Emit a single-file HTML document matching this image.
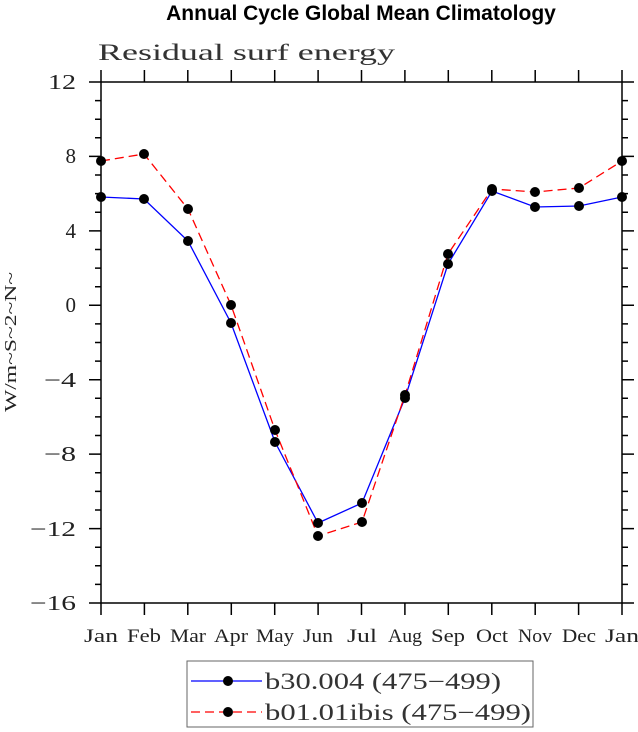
<!DOCTYPE html>
<html><head><style>body{margin:0;background:#fff}svg{display:block}</style></head><body>
<svg width="638" height="732" xmlns="http://www.w3.org/2000/svg" font-family="Liberation Serif, serif">
<text x="361" y="20" text-anchor="middle" font-family="Liberation Sans, sans-serif" font-weight="bold" font-size="21">Annual Cycle Global Mean Climatology</text>
<text x="98" y="60" font-size="23" fill="#333" textLength="297" lengthAdjust="spacingAndGlyphs">Residual surf energy</text>
<rect x="101" y="82" width="521" height="521" fill="none" stroke="#000" stroke-width="1.5"/>
<path stroke="#000" stroke-width="1.5" fill="none" d="
M89 82H101M622 82H634
M95 100.6H101M622 100.6H628
M95 119.2H101M622 119.2H628
M95 137.8H101M622 137.8H628
M89 156.4H101M622 156.4H634
M95 175H101M622 175H628
M95 193.6H101M622 193.6H628
M95 212.2H101M622 212.2H628
M89 230.9H101M622 230.9H634
M95 249.5H101M622 249.5H628
M95 268.1H101M622 268.1H628
M95 286.7H101M622 286.7H628
M89 305.3H101M622 305.3H634
M95 323.9H101M622 323.9H628
M95 342.5H101M622 342.5H628
M95 361.1H101M622 361.1H628
M89 379.7H101M622 379.7H634
M95 398.3H101M622 398.3H628
M95 416.9H101M622 416.9H628
M95 435.5H101M622 435.5H628
M89 454.1H101M622 454.1H634
M95 472.7H101M622 472.7H628
M95 491.4H101M622 491.4H628
M95 510H101M622 510H628
M89 528.6H101M622 528.6H634
M95 547.2H101M622 547.2H628
M95 565.8H101M622 565.8H628
M95 584.4H101M622 584.4H628
M89 603H101M622 603H634
M101 70V82M144.4 70V82M187.8 70V82M231.3 70V82M274.7 70V82M318.1 70V82M361.5 70V82M404.9 70V82M448.3 70V82M491.8 70V82M535.2 70V82M578.6 70V82M622 70V82
M101 603V615M144.4 603V615M187.8 603V615M231.3 603V615M274.7 603V615M318.1 603V615M361.5 603V615M404.9 603V615M448.3 603V615M491.8 603V615M535.2 603V615M578.6 603V615M622 603V615"/>
<g font-size="21" text-anchor="end" fill="#222">
<text x="76" y="89" textLength="28" lengthAdjust="spacingAndGlyphs">12</text><text x="76" y="163">8</text><text x="76" y="238">4</text><text x="76" y="312">0</text>
<text x="76" y="387" textLength="32" lengthAdjust="spacingAndGlyphs">−4</text><text x="76" y="461" textLength="32" lengthAdjust="spacingAndGlyphs">−8</text><text x="76" y="536" textLength="46" lengthAdjust="spacingAndGlyphs">−12</text><text x="76" y="610" textLength="46" lengthAdjust="spacingAndGlyphs">−16</text>
</g>
<g font-size="19" text-anchor="middle" fill="#222">
<text x="101" y="642" textLength="34" lengthAdjust="spacingAndGlyphs">Jan</text><text x="144" y="642" textLength="34" lengthAdjust="spacingAndGlyphs">Feb</text><text x="188" y="642" textLength="36" lengthAdjust="spacingAndGlyphs">Mar</text><text x="231" y="642" textLength="34" lengthAdjust="spacingAndGlyphs">Apr</text><text x="275" y="642" textLength="38" lengthAdjust="spacingAndGlyphs">May</text><text x="318" y="642" textLength="30" lengthAdjust="spacingAndGlyphs">Jun</text><text x="362" y="642" textLength="30" lengthAdjust="spacingAndGlyphs">Jul</text><text x="405" y="642" textLength="34" lengthAdjust="spacingAndGlyphs">Aug</text><text x="448" y="642" textLength="34" lengthAdjust="spacingAndGlyphs">Sep</text><text x="492" y="642" textLength="32" lengthAdjust="spacingAndGlyphs">Oct</text><text x="535" y="642" textLength="34" lengthAdjust="spacingAndGlyphs">Nov</text><text x="579" y="642" textLength="34" lengthAdjust="spacingAndGlyphs">Dec</text><text x="622" y="642" textLength="34" lengthAdjust="spacingAndGlyphs">Jan</text>
</g>
<text transform="translate(16,342) rotate(-90)" font-size="17" text-anchor="middle" fill="#222" textLength="140" lengthAdjust="spacingAndGlyphs">W/m~S~2~N~</text>
<polyline fill="none" stroke="#00f" stroke-width="1.3" points="101,197 144,199 188,241 231,323 275,442 318,523 362,503 405,398 448,264 492,191 535,207 579,206 622,197"/>
<polyline fill="none" stroke="#f00" stroke-width="1.3" stroke-dasharray="9,5" points="101,161 144,154 188,209 231,305 275,430 318,536 362,522 405,395 448,254 492,189 535,192 579,188 622,161"/>
<g fill="#000">
<circle cx="101" cy="197" r="5"/><circle cx="144" cy="199" r="5"/><circle cx="188" cy="241" r="5"/><circle cx="231" cy="323" r="5"/><circle cx="275" cy="442" r="5"/><circle cx="318" cy="523" r="5"/><circle cx="362" cy="503" r="5"/><circle cx="405" cy="398" r="5"/><circle cx="448" cy="264" r="5"/><circle cx="492" cy="191" r="5"/><circle cx="535" cy="207" r="5"/><circle cx="579" cy="206" r="5"/><circle cx="622" cy="197" r="5"/>
<circle cx="101" cy="161" r="5"/><circle cx="144" cy="154" r="5"/><circle cx="188" cy="209" r="5"/><circle cx="231" cy="305" r="5"/><circle cx="275" cy="430" r="5"/><circle cx="318" cy="536" r="5"/><circle cx="362" cy="522" r="5"/><circle cx="405" cy="395" r="5"/><circle cx="448" cy="254" r="5"/><circle cx="492" cy="189" r="5"/><circle cx="535" cy="192" r="5"/><circle cx="579" cy="188" r="5"/><circle cx="622" cy="161" r="5"/>
</g>
<rect x="187" y="661" width="346" height="66" fill="none" stroke="#666" stroke-width="1"/>
<line x1="191" y1="681" x2="262" y2="681" stroke="#00f" stroke-width="1.3"/>
<circle cx="228" cy="681" r="5"/>
<line x1="191" y1="712" x2="262" y2="712" stroke="#f00" stroke-width="1.3" stroke-dasharray="9,5"/>
<circle cx="228" cy="712" r="5"/>
<text x="265" y="689" font-size="23" fill="#333" textLength="236" lengthAdjust="spacingAndGlyphs">b30.004 (475−499)</text>
<text x="265" y="720" font-size="23" fill="#333" textLength="266" lengthAdjust="spacingAndGlyphs">b01.01ibis (475−499)</text>
</svg>
</body></html>
